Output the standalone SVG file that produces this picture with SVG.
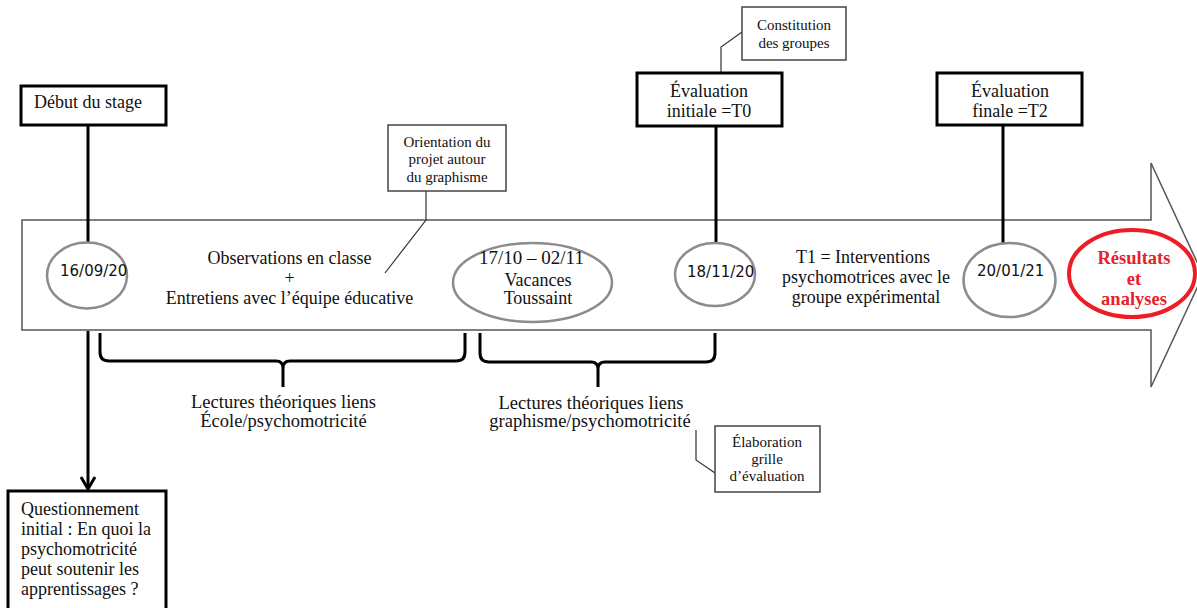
<svg xmlns="http://www.w3.org/2000/svg" width="1197" height="608" viewBox="0 0 1197 608">
  <defs>
    <style>
      .serif { font-family: "Liberation Serif", "Times New Roman", serif; fill: #111; }
      .date { font-family: "DejaVu Sans", Verdana, sans-serif; font-size: 15px; fill: #111; }
      .big { font-size: 18px; }
      .small { font-size: 15px; }
      .mid { text-anchor: middle; }
      .boxThick { fill: #fff; stroke: #000; stroke-width: 3; }
      .boxThin { fill: #fff; stroke: #444; stroke-width: 1.5; }
      .ell { fill: #fff; stroke: #8c8c8c; stroke-width: 2.5; }
      .stem { fill: none; stroke: #000; stroke-width: 3; }
      .leader { fill: none; stroke: #333; stroke-width: 1.2; }
      .red { font-family: "Liberation Serif", "Times New Roman", serif; font-size: 18.5px; font-weight: bold; fill: #e8202a; text-anchor: middle; }
    </style>
  </defs>
  <rect width="1197" height="608" fill="#fff"/>

  <g id="timeline-arrow">
    <polygon points="22,220 1151,220 1151,163 1203,275 1151,387 1151,330 22,330" fill="#fff" stroke="#555" stroke-width="1.5"/>
  </g>

  <g id="connectors">
    <line class="stem" x1="88" y1="125" x2="88" y2="243"/>
    <line class="stem" x1="716" y1="126" x2="716" y2="243"/>
    <line class="stem" x1="1003" y1="125" x2="1003" y2="243"/>
    <line class="stem" x1="88" y1="331" x2="88" y2="488"/>
    <polyline class="stem" points="81,477 88,489 95,477" stroke-width="2.5"/>
    <path class="stem" d="M100,333 L100,352 Q100,361 109,361 L276,361 Q283,361 283,368 L283,387 M283,368 Q283,361 290,361 L456,361 Q465,361 465,352 L465,333"/>
    <path class="stem" d="M480,333 L480,353 Q480,362 489,362 L591,362 Q598,362 598,369 L598,387 M598,369 Q598,362 605,362 L706,362 Q715,362 715,353 L715,333"/>
    <polyline class="leader" points="426,191 426,220 385,273"/>
    <polyline class="leader" points="742,32 721,47 721,73"/>
    <polyline class="leader" points="715,473 696,460 696,430"/>
  </g>

  <g id="debut-stage">
    <rect class="boxThick" x="21" y="86" width="145" height="39"/>
    <text class="serif big" x="34" y="108">Début du stage</text>
  </g>

  <g id="date-16-09-20">
    <ellipse class="ell" cx="87" cy="275.5" rx="40" ry="33"/>
    <text class="date" x="60" y="276">16/09/20</text>
  </g>

  <g id="observations">
    <text class="serif big mid" x="289.5" y="264">Observations en classe</text>
    <text class="serif big mid" x="289.5" y="284">+</text>
    <text class="serif big mid" x="289.5" y="304">Entretiens avec l’équipe éducative</text>
  </g>

  <g id="orientation">
    <rect class="boxThin" x="388" y="125" width="118" height="66"/>
    <text class="serif small mid" x="447" y="147">Orientation du</text>
    <text class="serif small mid" x="447" y="164">projet autour</text>
    <text class="serif small mid" x="447" y="182">du graphisme</text>
  </g>

  <g id="vacances">
    <ellipse class="ell" cx="532.5" cy="282.5" rx="79.5" ry="39.5"/>
    <text class="serif mid" x="531.5" y="264" font-size="19">17/10 – 02/11</text>
    <text class="serif big mid" x="538" y="286">Vacances</text>
    <text class="serif big mid" x="538" y="304">Toussaint</text>
  </g>

  <g id="constitution">
    <rect class="boxThin" x="742" y="7" width="104" height="53"/>
    <text class="serif small mid" x="794" y="30">Constitution</text>
    <text class="serif small mid" x="794" y="48">des groupes</text>
  </g>

  <g id="evaluation-initiale">
    <rect class="boxThick" x="637" y="73" width="145" height="53"/>
    <text class="serif big mid" x="709" y="97">Évaluation</text>
    <text class="serif big mid" x="709" y="117">initiale =T0</text>
  </g>

  <g id="date-18-11-20">
    <ellipse class="ell" cx="715" cy="274.5" rx="40" ry="31.5"/>
    <text class="date" x="687" y="277">18/11/20</text>
  </g>

  <g id="interventions">
    <text class="serif big mid" x="863" y="263">T1 = Interventions</text>
    <text class="serif big mid" x="866" y="283">psychomotrices avec le</text>
    <text class="serif big mid" x="866" y="303">groupe expérimental</text>
  </g>

  <g id="evaluation-finale">
    <rect class="boxThick" x="937" y="73" width="145" height="52"/>
    <text class="serif big mid" x="1010" y="97">Évaluation</text>
    <text class="serif big mid" x="1010" y="117">finale =T2</text>
  </g>

  <g id="date-20-01-21">
    <ellipse class="ell" cx="1009.5" cy="280" rx="46" ry="37"/>
    <text class="date" x="977" y="276">20/01/21</text>
  </g>

  <g id="resultats">
    <ellipse cx="1132" cy="273.5" rx="63" ry="43.5" fill="#fff" stroke="#ee1c25" stroke-width="4"/>
    <text class="red" x="1134" y="264">Résultats</text>
    <text class="red" x="1134" y="285">et</text>
    <text class="red" x="1134" y="305">analyses</text>
  </g>

  <g id="lectures-ecole">
    <text class="serif mid" x="283.5" y="408" font-size="18.5">Lectures théoriques liens</text>
    <text class="serif mid" x="283.5" y="427" font-size="18.5">École/psychomotricité</text>
  </g>

  <g id="lectures-graphisme">
    <text class="serif mid" x="591" y="409" font-size="18.5">Lectures théoriques liens</text>
    <text class="serif mid" x="590" y="427" font-size="18.5">graphisme/psychomotricité</text>
  </g>

  <g id="elaboration">
    <rect class="boxThin" x="715" y="426" width="105" height="66"/>
    <text class="serif small mid" x="767" y="447">Élaboration</text>
    <text class="serif small mid" x="767" y="464">grille</text>
    <text class="serif small mid" x="767" y="481">d’évaluation</text>
  </g>

  <g id="questionnement">
    <rect class="boxThick" x="8" y="491" width="158" height="130"/>
    <text class="serif big" x="21" y="515">Questionnement</text>
    <text class="serif big" x="21" y="535">initial : En quoi la</text>
    <text class="serif big" x="21" y="555">psychomotricité</text>
    <text class="serif big" x="21" y="575">peut soutenir les</text>
    <text class="serif big" x="21" y="595">apprentissages ?</text>
  </g>
</svg>
